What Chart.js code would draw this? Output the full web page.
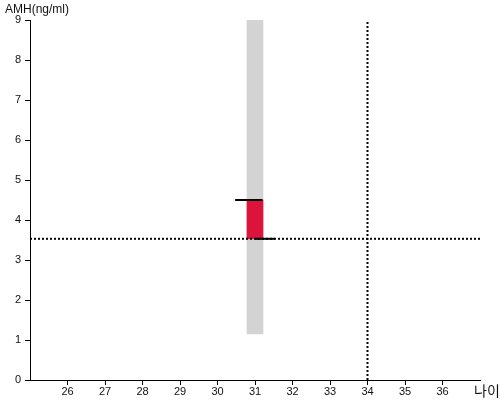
<!DOCTYPE html>
<html>
<head>
<meta charset="utf-8">
<script src="https://cdn.jsdelivr.net/npm/chart.js@4/dist/chart.umd.min.js"></script>
<style>
  body { margin: 0; background: #fff; }
  #wrap { position: relative; width: 500px; height: 400px; overflow: hidden; }
  .axis-title { position: absolute; white-space: nowrap; font-family: Arial, "Liberation Sans", sans-serif; color: #111; }
</style>
</head>
<body>
<div id="wrap">
  <canvas id="amhChart" width="500" height="400"></canvas>
  <span class="axis-title" style="left:5px; top:2px; font-size:12px;">AMH(ng/ml)</span>
  <span class="axis-title" style="left:474px; top:380px; font-size:14px; font-family:'Noto Sans CJK KR', sans-serif;">나이</span>
</div>
<script>
// axis ranges
const ageRange = [25, 37];
const amhRange = [0, 9];

// normal range band for the age group
const bandAge = 31;
const bandAmh = [1.15, 9];

// measured value bar
const valueAge = 31;
const valueAmh = [3.53, 4.5];

// short black markers at the top and bottom of the value bar
const topMarkAge = [30.47, 31.2];
const topMarkAmh = 4.5;
const lowMarkAge = [31, 31.53];
const lowMarkAmh = 3.53;

// dotted reference lines
const refAge = 34;
const refAmh = 3.53;

document.addEventListener('DOMContentLoaded', function() {
    const ctx = document.getElementById('amhChart');
    new Chart(ctx, {
        type: 'bar',
        data: {
            datasets: [
                {
                    label: 'band',
                    data: [{ x: bandAge, y: bandAmh }],
                    backgroundColor: '#d3d3d3',
                    barThickness: 16,
                    grouped: false,
                    order: 5
                },
                {
                    label: 'value',
                    data: [{ x: valueAge, y: valueAmh }],
                    backgroundColor: '#dc143c',
                    barThickness: 16,
                    grouped: false,
                    order: 4
                },
                {
                    type: 'line',
                    label: 'top',
                    data: [{ x: topMarkAge[0], y: topMarkAmh }, { x: topMarkAge[1], y: topMarkAmh }],
                    borderColor: '#000',
                    borderWidth: 2,
                    pointRadius: 0,
                    order: 3
                },
                {
                    type: 'line',
                    label: 'low',
                    data: [{ x: lowMarkAge[0], y: lowMarkAmh }, { x: lowMarkAge[1], y: lowMarkAmh }],
                    borderColor: '#000',
                    borderWidth: 2,
                    pointRadius: 0,
                    order: 3
                },
                {
                    type: 'line',
                    label: 'refH',
                    data: [{ x: ageRange[0], y: refAmh }, { x: ageRange[1], y: refAmh }],
                    borderColor: '#000',
                    borderWidth: 2,
                    borderDash: [2, 2],
                    pointRadius: 0,
                    order: 2
                },
                {
                    type: 'line',
                    label: 'refV',
                    data: [{ x: refAge, y: amhRange[0] }, { x: refAge, y: amhRange[1] }],
                    borderColor: '#000',
                    borderWidth: 2,
                    borderDash: [2, 2],
                    pointRadius: 0,
                    order: 2
                }
            ]
        },
        options: {
            responsive: false,
            animation: false,
            layout: { padding: { top: 20, right: 20, left: 0, bottom: 0 } },
            plugins: {
                legend: { display: false },
                tooltip: { enabled: false }
            },
            scales: {
                x: {
                    type: 'linear',
                    min: ageRange[0],
                    max: ageRange[1],
                    offset: false,
                    afterFit: function(s) { s.height = 20; },
                    border: { color: '#000', width: 1 },
                    grid: { offset: false, drawOnChartArea: false, color: '#000', tickLength: 5 },
                    ticks: {
                        stepSize: 1,
                        color: '#111',
                        padding: 0,
                        font: { family: 'Arial, "Liberation Sans"', size: 11 },
                        callback: function(v) {
                            return (v === ageRange[0] || v === ageRange[1]) ? null : v;
                        }
                    }
                },
                y: {
                    min: amhRange[0],
                    max: amhRange[1],
                    afterFit: function(s) { s.width = 30; },
                    border: { color: '#000', width: 1 },
                    grid: { drawOnChartArea: false, color: '#000', tickLength: 5 },
                    ticks: {
                        stepSize: 1,
                        color: '#111',
                        padding: 4,
                        font: { family: 'Arial, "Liberation Sans"', size: 11 }
                    }
                }
            }
        }
    });
});
</script>
</body>
</html>
